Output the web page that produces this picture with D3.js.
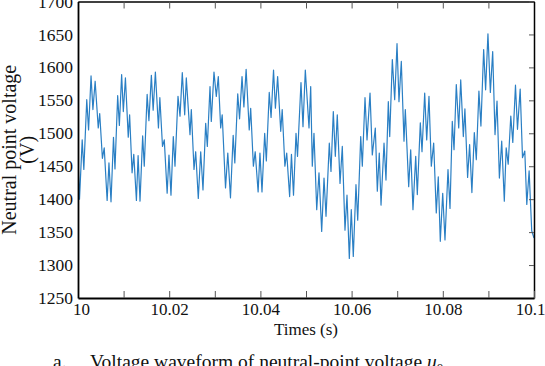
<!DOCTYPE html>
<html>
<head>
<meta charset="utf-8">
<script src="https://cdn.jsdelivr.net/npm/d3@7"></script>
<style>
  body { margin: 0; background: #fff; }
  svg { display: block; }
  svg text, .tick text { font-family: "Liberation Serif", "Times New Roman", serif !important; }
</style>
</head>
<body>
<div id="chart"></div>
<script>
// Neutral-point voltage trace: [ms after t = 10 s, volts]
const wave = [
  [0.00, 1462],
  [0.33, 1400], [0.92, 1490], [1.28, 1445], [1.92, 1551], [2.32, 1505], [2.86, 1587], [3.27, 1536],
  [3.76, 1579], [4.44, 1508], [4.76, 1530], [5.35, 1462], [5.75, 1478], [6.39, 1398], [6.79, 1455],
  [7.24, 1396], [7.78, 1494], [8.11, 1446], [8.70, 1557], [9.07, 1512], [9.57, 1589], [9.94, 1533],
  [10.40, 1584], [11.02, 1494], [11.32, 1528], [11.86, 1440], [12.23, 1468], [12.81, 1398], [13.18, 1466],
  [13.60, 1397], [14.18, 1496], [14.53, 1450], [15.16, 1559], [15.55, 1519], [16.09, 1588], [16.48, 1535],
  [16.97, 1593], [17.64, 1508], [17.95, 1554], [18.53, 1480], [18.92, 1490], [19.55, 1409], [19.95, 1467],
  [20.39, 1406], [20.90, 1495], [21.27, 1450], [21.93, 1556], [22.37, 1526], [22.87, 1592], [23.40, 1528],
  [23.75, 1584], [24.56, 1498], [24.85, 1536], [25.44, 1445], [25.81, 1472], [26.38, 1401], [26.91, 1472],
  [27.41, 1414], [28.00, 1515], [28.36, 1480], [28.95, 1571], [29.23, 1518], [29.82, 1593], [30.33, 1556],
  [30.77, 1586], [31.29, 1508], [31.62, 1528], [32.35, 1417], [32.85, 1470],
  [33.44, 1402], [34.03, 1497], [34.39, 1455], [35.03, 1560], [35.43, 1522], [35.97, 1586], [36.38, 1540],
  [36.87, 1597], [37.55, 1505], [37.87, 1538], [38.46, 1450], [38.86, 1472], [39.50, 1411], [39.90, 1470],
  [40.35, 1411], [40.94, 1500], [41.30, 1458], [41.94, 1562], [42.34, 1524], [42.88, 1596], [43.29, 1538],
  [43.78, 1586], [44.46, 1503], [44.78, 1536], [45.37, 1450], [45.77, 1470], [46.41, 1404], [46.81, 1468],
  [47.26, 1406], [47.81, 1500], [48.14, 1465], [48.90, 1577], [49.34, 1510], [49.85, 1596], [50.66, 1508],
  [51.03, 1571], [51.38, 1450], [51.75, 1500], [52.35, 1384], [52.85, 1440], [53.44, 1351], [53.95, 1432],
  [54.39, 1374], [55.11, 1485], [55.48, 1442], [55.99, 1533], [56.43, 1465], [56.86, 1528], [57.46, 1424],
  [57.96, 1480], [58.55, 1353], [58.99, 1406], [59.50, 1310], [59.93, 1384], [60.37, 1313], [60.96, 1422],
  [61.34, 1368], [62.00, 1495], [62.35, 1450], [62.94, 1554], [63.38, 1490], [64.04, 1561], [64.54, 1467],
  [65.20, 1508], [65.64, 1412], [66.07, 1470], [66.45, 1391], [67.11, 1485], [67.54, 1429], [68.05, 1548],
  [68.36, 1495], [68.93, 1612], [69.45, 1551], [69.96, 1636], [70.39, 1548], [70.90, 1609], [71.49, 1488],
  [71.78, 1536], [72.52, 1419], [72.96, 1475], [73.46, 1384], [74.06, 1465], [74.41, 1407], [75.07, 1516],
  [75.44, 1472], [76.03, 1561], [76.47, 1490], [76.97, 1556], [77.48, 1450], [78.00, 1485], [78.57, 1379],
  [79.01, 1434], [79.45, 1336], [79.98, 1409], [80.48, 1338], [81.14, 1445], [81.58, 1386], [82.08, 1518],
  [82.46, 1475], [82.96, 1574], [83.49, 1508], [83.93, 1581], [84.50, 1495], [84.85, 1537], [85.44, 1433],
  [85.88, 1483], [86.38, 1410], [86.91, 1501], [87.35, 1460], [87.92, 1564], [88.36, 1511], [88.96, 1627],
  [89.39, 1566], [89.90, 1651], [90.43, 1562], [90.94, 1624], [91.45, 1498], [91.89, 1549], [92.41, 1432],
  [92.92, 1488], [93.49, 1397], [93.90, 1478], [94.34, 1453], [94.91, 1526], [95.35, 1486], [95.94, 1573],
  [96.38, 1506], [96.97, 1567], [97.48, 1463], [97.98, 1473], [98.42, 1392], [98.93, 1443], [99.50, 1352],
  [100.00, 1341]
];

const xTicks = [10, 10.01, 10.02, 10.03, 10.04, 10.05, 10.06, 10.07, 10.08, 10.09, 10.1];
const xTickLabels = ["10", "", "10.02", "", "10.04", "", "10.06", "", "10.08", "", "10.1"];
const yTicks = [1250, 1300, 1350, 1400, 1450, 1500, 1550, 1600, 1650, 1700];

const serif = "'Liberation Serif', 'Times New Roman', serif";

function draw(el) {
  // Dimensions
  const dimensions = {
    width: 545,
    height: 366,
    margin: { top: 1.5, right: 11, bottom: 68, left: 78 }
  };
  const plotRight = dimensions.width - dimensions.margin.right;
  const plotBottom = dimensions.height - dimensions.margin.bottom;

  const svg = d3
    .select(el)
    .append("svg")
    .attr("width", dimensions.width)
    .attr("height", dimensions.height)
    .style("background", "#fff");

  // Scales
  const xScale = d3
    .scaleLinear()
    .domain([10, 10.1])
    .range([dimensions.margin.left, plotRight]);

  const yScale = d3
    .scaleLinear()
    .domain([1250, 1700])
    .range([plotBottom, dimensions.margin.top]);

  svg
    .append("defs")
    .append("clipPath")
    .attr("id", "plot-clip")
    .append("rect")
    .attr("x", dimensions.margin.left)
    .attr("y", dimensions.margin.top)
    .attr("width", plotRight - dimensions.margin.left)
    .attr("height", plotBottom - dimensions.margin.top);

  // Waveform
  const line = d3
    .line()
    .x((d) => xScale(10 + d[0] / 1000))
    .y((d) => yScale(d[1]));

  svg
    .append("path")
    .datum(wave)
    .attr("clip-path", "url(#plot-clip)")
    .attr("fill", "none")
    .attr("stroke", "#2a7fc4")
    .attr("stroke-width", 1.2)
    .attr("stroke-linejoin", "round")
    .attr("d", line);

  // Top axis (ticks only)
  const gTop = svg
    .append("g")
    .attr("transform", `translate(0, ${dimensions.margin.top})`)
    .call(d3.axisTop(xScale).tickValues(xTicks).tickSizeInner(-7).tickSizeOuter(0).tickFormat(""));
  gTop.selectAll(".tick line").attr("stroke", "#555");
  gTop.select(".domain").attr("stroke", "#000").attr("stroke-width", 1.5);

  // Right axis (ticks only)
  const gRight = svg
    .append("g")
    .attr("transform", `translate(${plotRight}, 0)`)
    .call(d3.axisRight(yScale).tickValues(yTicks).tickSizeInner(-5).tickSizeOuter(0).tickFormat(""));
  gRight.selectAll(".tick line").attr("stroke", "#555");
  gRight.select(".domain").attr("stroke", "#000").attr("stroke-width", 1.5);

  // Bottom axis
  const gx = svg
    .append("g")
    .attr("transform", `translate(0, ${plotBottom})`)
    .call(
      d3
        .axisBottom(xScale)
        .tickValues(xTicks)
        .tickFormat((d, i) => xTickLabels[i])
        .tickSizeInner(-7)
        .tickSizeOuter(0)
        .tickPadding(5)
    )
    .attr("font-family", serif)
    .attr("font-size", 17);
  gx.selectAll(".tick line").attr("stroke", "#555");
  gx.selectAll(".tick text")
    .attr("fill", "#111")
    .attr("dx", (d, i) => (i === 0 ? 3 : i === xTicks.length - 1 ? -4 : 0));
  gx.select(".domain").attr("stroke", "#000").attr("stroke-width", 1.8);

  // Left axis
  const gy = svg
    .append("g")
    .attr("transform", `translate(${dimensions.margin.left}, 0)`)
    .call(d3.axisLeft(yScale).tickValues(yTicks).tickFormat(d3.format("d")).tickSize(0).tickPadding(5))
    .attr("font-family", serif)
    .attr("font-size", 17.5);
  gy.selectAll(".tick text").attr("fill", "#111");
  gy.select(".domain").attr("stroke", "#000").attr("stroke-width", 1.8);

  // Axis titles
  svg
    .append("text")
    .attr("x", (dimensions.margin.left + plotRight) / 2)
    .attr("y", 335)
    .attr("text-anchor", "middle")
    .style("font-size", "17px")
    .attr("fill", "#111")
    .text("Times (s)");

  const yTitle = svg
    .append("text")
    .attr("transform", "rotate(-90)")
    .attr("text-anchor", "middle")
    .style("font-size", "20px")
    .attr("fill", "#111");
  yTitle
    .append("tspan")
    .attr("x", -(dimensions.margin.top + plotBottom) / 2)
    .attr("y", 16)
    .text("Neutral point voltage");
  yTitle
    .append("tspan")
    .attr("x", -(dimensions.margin.top + plotBottom) / 2)
    .attr("y", 34)
    .text("(V)");

  // Caption
  const caption = svg
    .append("g")
    .style("font-size", "19.5px")
    .attr("fill", "#111");
  caption.append("text").attr("x", 53).attr("y", 368).text("a.");
  const capText = caption.append("text").attr("x", 90).attr("y", 368);
  capText.append("tspan").text("Voltage waveform of neutral-point voltage ");
  capText.append("tspan").style("font-style", "italic").text("u");
  capText.append("tspan").attr("dy", 4).style("font-size", "13px").text("0");
}

draw("#chart");
</script>
</body>
</html>
